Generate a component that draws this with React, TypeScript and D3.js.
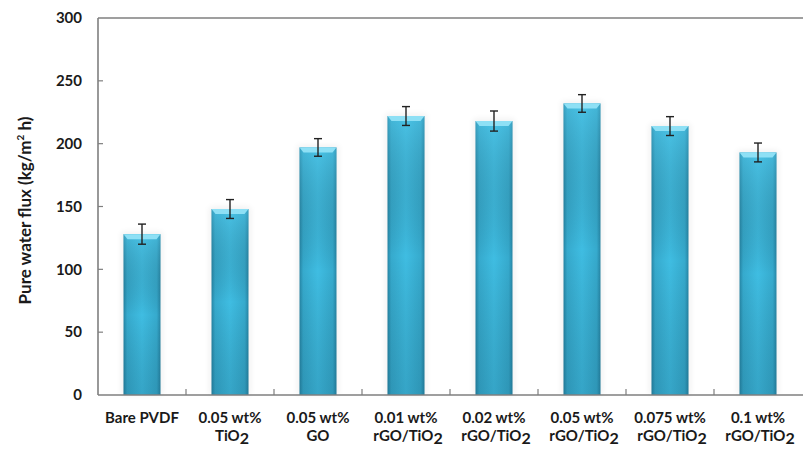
import React from "react";
import * as d3 from "d3";

const categories = ["Bare PVDF", "0.05 wt% TiO2", "0.05 wt% GO", "0.01 wt% rGO/TiO2", "0.02 wt% rGO/TiO2", "0.05 wt% rGO/TiO2", "0.075 wt% rGO/TiO2", "0.1 wt% rGO/TiO2"];
const line1 = ["Bare PVDF", "0.05 wt%", "0.05 wt%", "0.01 wt%", "0.02 wt%", "0.05 wt%", "0.075 wt%", "0.1 wt%"];
const line2 = ["", "TiO|2", "GO", "rGO/TiO|2", "rGO/TiO|2", "rGO/TiO|2", "rGO/TiO|2", "rGO/TiO|2"];
const fluxValues = [128, 148, 197, 222, 218, 232, 214, 193];
const fluxErrors = [8, 7.5, 7, 7.5, 8, 7, 7.5, 7.5];
const yTicks = [0, 50, 100, 150, 200, 250, 300];

const W = 803, H = 451;
const M = { left: 98, right: 802, top: 18, bottom: 395 };
const FONT = "Lato, 'Open Sans', sans-serif";

export default function App() {
  const x = d3.scaleBand<string>().domain(categories).range([M.left, M.right]).paddingInner(0.58).paddingOuter(0.29);
  const y = d3.scaleLinear().domain([0, 300]).range([M.bottom, M.top]);
  const step = x.step();
  const bw = x.bandwidth();
  const axisColor = "#7f7f7f";

  return (
    <svg width={W} height={H} style={{ position: "absolute", left: 0, top: 0, background: "#fff" }}>
      <defs>
        <linearGradient id="hgrad" x1="0" x2="1" y1="0" y2="0">
          <stop offset="0" stopColor="#2686a6" />
          <stop offset="0.1" stopColor="#36aacd" />
          <stop offset="0.5" stopColor="#3fbde2" />
          <stop offset="0.9" stopColor="#36aacd" />
          <stop offset="1" stopColor="#2686a6" />
        </linearGradient>
        <linearGradient id="vgrad" x1="0" x2="0" y1="0" y2="1">
          <stop offset="0" stopColor="#5fd0f0" stopOpacity="0.35" />
          <stop offset="0.5" stopColor="#000" stopOpacity="0" />
          <stop offset="1" stopColor="#0a3a50" stopOpacity="0.18" />
        </linearGradient>
        <filter id="shadow" x="-30%" y="-10%" width="160%" height="120%">
          <feGaussianBlur stdDeviation="3" />
        </filter>
      </defs>

      {/* top frame line */}
      <line x1={M.left} x2={W} y1={y(300)} y2={y(300)} stroke={axisColor} strokeWidth={1.6} />

      {/* bars */}
      {categories.map((c, i) => {
        const x0 = x(c)!;
        const yt = y(fluxValues[i]);
        const h = y(0) - yt;
        const bev = 5;
        return (
          <g key={c}>
            <rect x={x0 - 2} y={yt - 2} width={bw + 4} height={h + 2} fill="#000" opacity={0.06} filter="url(#shadow)" />
            <rect x={x0} y={yt} width={bw} height={h} fill="url(#hgrad)" />
            <rect x={x0} y={yt} width={bw} height={h} fill="url(#vgrad)" />
            <polygon
              points={`${x0},${yt} ${x0 + bw},${yt} ${x0 + bw - 4},${yt + bev} ${x0 + 4},${yt + bev}`}
              fill="#8ee0f5"
            />
          </g>
        );
      })}

      {/* error bars */}
      {categories.map((c, i) => {
        const cx = x(c)! + bw / 2;
        const yh = y(fluxValues[i] + fluxErrors[i]);
        const yl = y(fluxValues[i] - fluxErrors[i]);
        return (
          <g key={"e" + c} stroke="#222" strokeWidth={1.4}>
            <line x1={cx} x2={cx} y1={yh} y2={yl} />
            <line x1={cx - 4} x2={cx + 4} y1={yh} y2={yh} />
            <line x1={cx - 4} x2={cx + 4} y1={yl} y2={yl} />
          </g>
        );
      })}

      {/* axes */}
      <line x1={M.left} x2={M.left} y1={y(300)} y2={y(0)} stroke={axisColor} strokeWidth={1.6} />
      <line x1={M.left} x2={W} y1={y(0)} y2={y(0)} stroke={axisColor} strokeWidth={1.6} />
      {yTicks.map((t) => (
        <g key={"yt" + t}>
          {t !== 0 && t !== 300 && (
            <line x1={M.left} x2={M.left + 5} y1={y(t)} y2={y(t)} stroke={axisColor} strokeWidth={1.2} />
          )}
          <text x={82} y={y(t)} dy="0.35em" textAnchor="end" fontFamily={FONT} fontWeight={700} fontSize={15} fill="#1a1a1a">
            {t}
          </text>
        </g>
      ))}
      {categories.slice(1).map((c, i) => {
        const xx = x(c)! - (step - bw) / 2;
        return <line key={"xt" + i} x1={xx} x2={xx} y1={y(0)} y2={y(0) - 6} stroke={axisColor} strokeWidth={1.2} />;
      })}

      {/* x labels */}
      {categories.map((c, i) => {
        const cx = x(c)! + bw / 2;
        const parts = line2[i].split("|");
        return (
          <g key={"xl" + c} fontFamily={FONT} fontWeight={700} fontSize={15} fill="#1a1a1a" textAnchor="middle">
            <text x={cx} y={423}>{line1[i]}</text>
            {line2[i] && (
              <text x={cx + (parts.length > 1 ? 2 : 0)} y={441}>
                {parts[0]}
                {parts.length > 1 && <tspan dy={3} fontSize={16}>{parts[1]}</tspan>}
              </text>
            )}
          </g>
        );
      })}

      {/* y title */}
      <text
        transform={`translate(31,${(y(0) + y(300)) / 2 + 4}) rotate(-90)`}
        textAnchor="middle"
        fontFamily={FONT}
        fontWeight={700}
        fontSize={17}
        fill="#1a1a1a"
      >
        Pure water flux (kg/m<tspan dy={-7} fontSize={10}>2</tspan><tspan dy={7}> h)</tspan>
      </text>
    </svg>
  );
}
